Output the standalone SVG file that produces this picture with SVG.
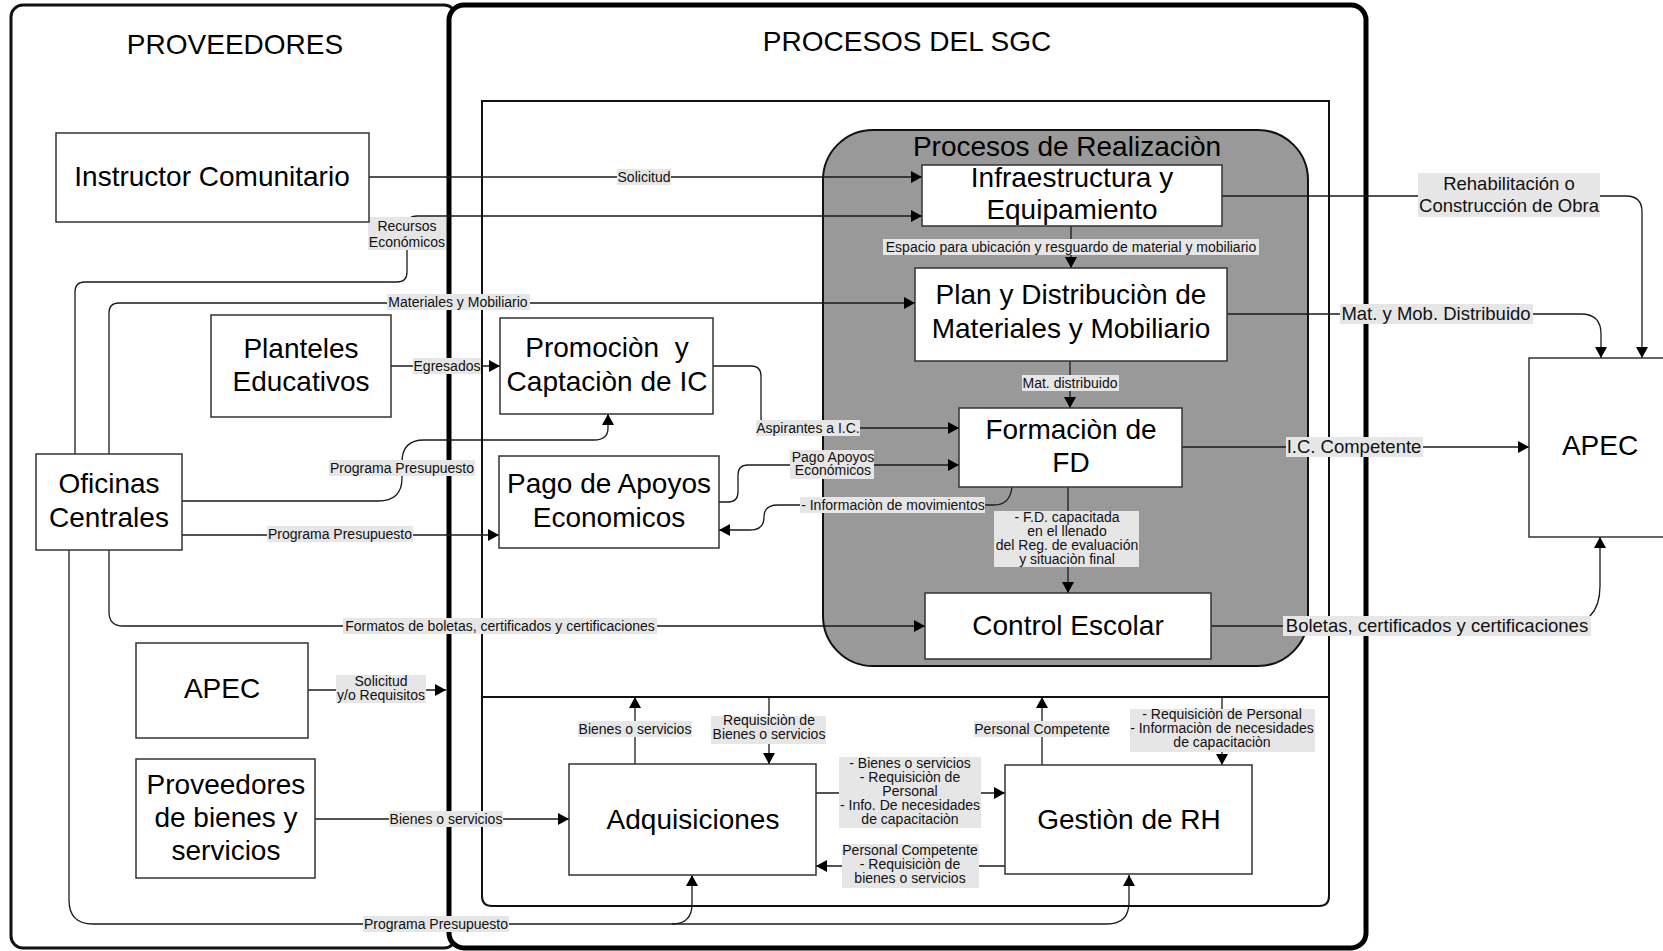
<svg xmlns="http://www.w3.org/2000/svg" width="1663" height="951" viewBox="0 0 1663 951">
<style>
.t{font-family:"Liberation Sans",Arial,sans-serif;fill:#000;text-anchor:middle}
.nt{font-size:28px}
.lb{font-size:14px;fill:#111}
.lbb{font-size:18.5px;fill:#111}
.bg{fill:#e6e6e6}
.box{fill:#fff;stroke:#333;stroke-width:1.5}
.conn path{fill:none;stroke:#1a1a1a;stroke-width:1.3;marker-end:url(#ah)}
</style>
<defs>
<marker id="ah" viewBox="0 0 12 12" refX="11" refY="6" markerWidth="12" markerHeight="12" markerUnits="userSpaceOnUse" orient="auto">
<path d="M0,0 L11,6 L0,12 z" fill="#000"/>
</marker>
</defs>
<rect width="1663" height="951" fill="#fff"/>

<g id="proveedores-frame">
<rect x="11" y="5" width="445" height="943" rx="12" fill="#fff" stroke="#111" stroke-width="3"/>
<text class="t" x="235" y="54" font-size="28">PROVEEDORES</text>
</g>
<g id="procesos-frame">
<rect x="449" y="5" width="917" height="943" rx="15" fill="#fff" stroke="#000" stroke-width="5"/>
<text class="t" x="907" y="51" font-size="28">PROCESOS DEL SGC</text>
<path d="M482 101 H1329 V896 Q1329 906 1319 906 H492 Q482 906 482 896 Z" fill="none" stroke="#111" stroke-width="2"/>
<path d="M482 697 H1329" fill="none" stroke="#111" stroke-width="2"/>
</g>
<g id="realizacion-frame">
<rect x="823" y="130" width="485" height="536" rx="50" fill="#999" stroke="#111" stroke-width="2"/>
<text class="t nt" x="1067" y="156">Procesos de Realizaciòn</text>
</g>

<g class="conn" id="connectors">
<path d="M369 177 H922"/>
<path d="M75 454 V292 Q75 282 85 282 H397 Q407 282 407 272 V226 Q407 216 417 216 H922"/>
<path d="M109 454 V313 Q109 303 119 303 H915"/>
<path d="M391 366 H500"/>
<path d="M182 501 H378 Q402 501 402 478 V462 Q402 440 424 440 H594 Q608 440 608 428 V414"/>
<path d="M182 535 H499"/>
<path d="M109 550 V612 Q109 626 123 626 H925"/>
<path d="M69 550 V900 Q69 924 93 924 H1107 Q1129 924 1129 902 V875"/>
<path d="M672 924 Q692 924 692 904 V875"/>
<path d="M308 690 H446"/>
<path d="M315 819 H569"/>
<path d="M713 366 H751 Q761 366 761 376 V418 Q761 428 771 428 H959"/>
<path d="M719 502 H728 Q738 502 738 492 V475 Q738 465 748 465 H959"/>
<path d="M1012 487 Q1010 505 994 505 H778 Q764 505 764 517 Q764 530 750 530 H719"/>
<path d="M1068 487 V593"/>
<path d="M1071 226 V268"/>
<path d="M1070 361 V408"/>
<path d="M1222 196 H1626 Q1642 196 1642 212 V358"/>
<path d="M1227 314 H1581 Q1601 314 1601 334 V358"/>
<path d="M1182 447 H1529"/>
<path d="M1211 626 H1560 Q1600 626 1600 586 V537"/>
<path d="M635 764 V697"/>
<path d="M769 697 V764"/>
<path d="M816 793 H1005"/>
<path d="M1005 866 H816"/>
<path d="M1042 765 V697"/>
<path d="M1222 697 V765"/>
</g>

<g id="labels">
<rect class="bg" x="617" y="169" width="54" height="16"/>
<text class="t lb" x="644" y="182">Solicitud</text>
<rect class="bg" x="368" y="217" width="78" height="33"/>
<text class="t lb" x="407" y="231">Recursos</text>
<text class="t lb" x="407" y="247">Económicos</text>
<rect class="bg" x="387" y="294" width="143" height="16"/>
<text class="t lb" x="458" y="307">Materiales y Mobiliario</text>
<rect class="bg" x="413" y="358" width="68" height="16"/>
<text class="t lb" x="447" y="371">Egresados</text>
<rect class="bg" x="329" y="460" width="146" height="16"/>
<text class="t lb" x="402" y="473">Programa Presupuesto</text>
<rect class="bg" x="267" y="526" width="146" height="16"/>
<text class="t lb" x="340" y="539">Programa Presupuesto</text>
<rect class="bg" x="343" y="618" width="314" height="16"/>
<text class="t lb" x="500" y="631">Formatos de boletas, certificados y certificaciones</text>
<rect class="bg" x="336" y="675" width="90" height="28"/>
<text class="t lb" x="381" y="686">Solicitud</text>
<text class="t lb" x="381" y="700">y/o Requisitos</text>
<rect class="bg" x="389" y="811" width="114" height="16"/>
<text class="t lb" x="446" y="824">Bienes o servicios</text>
<rect class="bg" x="363" y="916" width="146" height="16"/>
<text class="t lb" x="436" y="929">Programa Presupuesto</text>
<rect class="bg" x="756" y="420" width="104" height="16"/>
<text class="t lb" x="808" y="433">Aspirantes a I.C.</text>
<rect class="bg" x="790" y="450" width="84" height="29"/>
<text class="t lb" x="833" y="462">Pago Apoyos</text>
<text class="t lb" x="833" y="475">Económicos</text>
<rect class="bg" x="800" y="497" width="185" height="16"/>
<text class="t lb" x="893" y="510">- Informaciòn de movimientos</text>
<rect class="bg" x="883" y="239" width="376" height="16"/>
<text class="t lb" x="1071" y="252">Espacio para ubicación y resguardo de material y mobiliario</text>
<rect class="bg" x="1022" y="375" width="97" height="16"/>
<text class="t lb" x="1070" y="388">Mat. distribuido</text>
<rect class="bg" x="994" y="511" width="145" height="56"/>
<text class="t lb" x="1067" y="522">- F.D. capacitada</text>
<text class="t lb" x="1067" y="536">en el llenado</text>
<text class="t lb" x="1067" y="550">del Reg. de evaluación</text>
<text class="t lb" x="1067" y="564">y situaciòn final</text>
<rect class="bg" x="1418" y="173" width="182" height="44"/>
<text class="t lbb" x="1509" y="190">Rehabilitación o</text>
<text class="t lbb" x="1509" y="212">Construcción de Obra</text>
<rect class="bg" x="1340" y="304" width="193" height="20"/>
<text class="t lbb" x="1436" y="320">Mat. y Mob. Distribuido</text>
<rect class="bg" x="1286" y="437" width="137" height="20"/>
<text class="t lbb" x="1354" y="453">I.C. Competente</text>
<rect class="bg" x="1283" y="616" width="308" height="20"/>
<text class="t lbb" x="1437" y="632">Boletas, certificados y certificaciones</text>
<rect class="bg" x="578" y="721" width="114" height="16"/>
<text class="t lb" x="635" y="734">Bienes o servicios</text>
<rect class="bg" x="711" y="716" width="115" height="28"/>
<text class="t lb" x="769" y="725">Requisiciòn de</text>
<text class="t lb" x="769" y="739">Bienes o servicios</text>
<rect class="bg" x="839" y="757" width="142" height="71"/>
<text class="t lb" x="910" y="768">- Bienes o servicios</text>
<text class="t lb" x="910" y="782">- Requisiciòn de</text>
<text class="t lb" x="910" y="796">Personal</text>
<text class="t lb" x="910" y="810">- Info. De necesidades</text>
<text class="t lb" x="910" y="824">de capacitaciòn</text>
<rect class="bg" x="842" y="844" width="137" height="44"/>
<text class="t lb" x="910" y="855">Personal Competente</text>
<text class="t lb" x="910" y="869">- Requisiciòn de</text>
<text class="t lb" x="910" y="883">bienes o servicios</text>
<rect class="bg" x="974" y="721" width="136" height="16"/>
<text class="t lb" x="1042" y="734">Personal Competente</text>
<rect class="bg" x="1130" y="709" width="185" height="43"/>
<text class="t lb" x="1222" y="719">- Requisiciòn de Personal</text>
<text class="t lb" x="1222" y="733">- Informaciòn de necesidades</text>
<text class="t lb" x="1222" y="747">de capacitaciòn</text>
</g>

<g id="instructor-comunitario">
<rect class="box" x="56" y="133" width="313" height="89"/>
<text class="t nt" x="212" y="186">Instructor Comunitario</text>
</g>
<g id="planteles-educativos">
<rect class="box" x="211" y="315" width="180" height="102"/>
<text class="t nt" x="301" y="358">Planteles</text>
<text class="t nt" x="301" y="391">Educativos</text>
</g>
<g id="oficinas-centrales">
<rect class="box" x="36" y="454" width="146" height="96"/>
<text class="t nt" x="109" y="493">Oficinas</text>
<text class="t nt" x="109" y="527">Centrales</text>
</g>
<g id="apec-proveedor">
<rect class="box" x="136" y="643" width="172" height="95"/>
<text class="t nt" x="222" y="698">APEC</text>
</g>
<g id="proveedores-bienes">
<rect class="box" x="136" y="759" width="179" height="119"/>
<text class="t nt" x="226" y="794">Proveedores</text>
<text class="t nt" x="226" y="827">de bienes y</text>
<text class="t nt" x="226" y="860">servicios</text>
</g>
<g id="promocion">
<rect class="box" x="500" y="318" width="213" height="96"/>
<text class="t nt" x="607" y="357" xml:space="preserve">Promociòn  y</text>
<text class="t nt" x="607" y="391">Captaciòn de IC</text>
</g>
<g id="pago-apoyos">
<rect class="box" x="499" y="456" width="220" height="92"/>
<text class="t nt" x="609" y="493">Pago de Apoyos</text>
<text class="t nt" x="609" y="527">Economicos</text>
</g>
<g id="infraestructura">
<rect class="box" x="922" y="165" width="300" height="61"/>
<text class="t nt" x="1072" y="187">Infraestructura y</text>
<text class="t nt" x="1072" y="219">Equipamiento</text>
</g>
<g id="plan-distribucion">
<rect class="box" x="915" y="268" width="312" height="93"/>
<text class="t nt" x="1071" y="304">Plan y Distribuciòn de</text>
<text class="t nt" x="1071" y="338">Materiales y Mobiliario</text>
</g>
<g id="formacion-fd">
<rect class="box" x="959" y="408" width="223" height="79"/>
<text class="t nt" x="1071" y="439">Formaciòn de</text>
<text class="t nt" x="1071" y="472">FD</text>
</g>
<g id="control-escolar">
<rect class="box" x="925" y="593" width="286" height="66"/>
<text class="t nt" x="1068" y="635">Control Escolar</text>
</g>
<g id="apec-cliente">
<rect class="box" x="1529" y="358" width="150" height="179"/>
<text class="t nt" x="1600" y="455">APEC</text>
</g>
<g id="adquisiciones">
<rect class="box" x="569" y="764" width="247" height="111"/>
<text class="t nt" x="693" y="829">Adquisiciones</text>
</g>
<g id="gestion-rh">
<rect class="box" x="1005" y="765" width="247" height="109"/>
<text class="t nt" x="1129" y="829">Gestiòn de RH</text>
</g>
</svg>
